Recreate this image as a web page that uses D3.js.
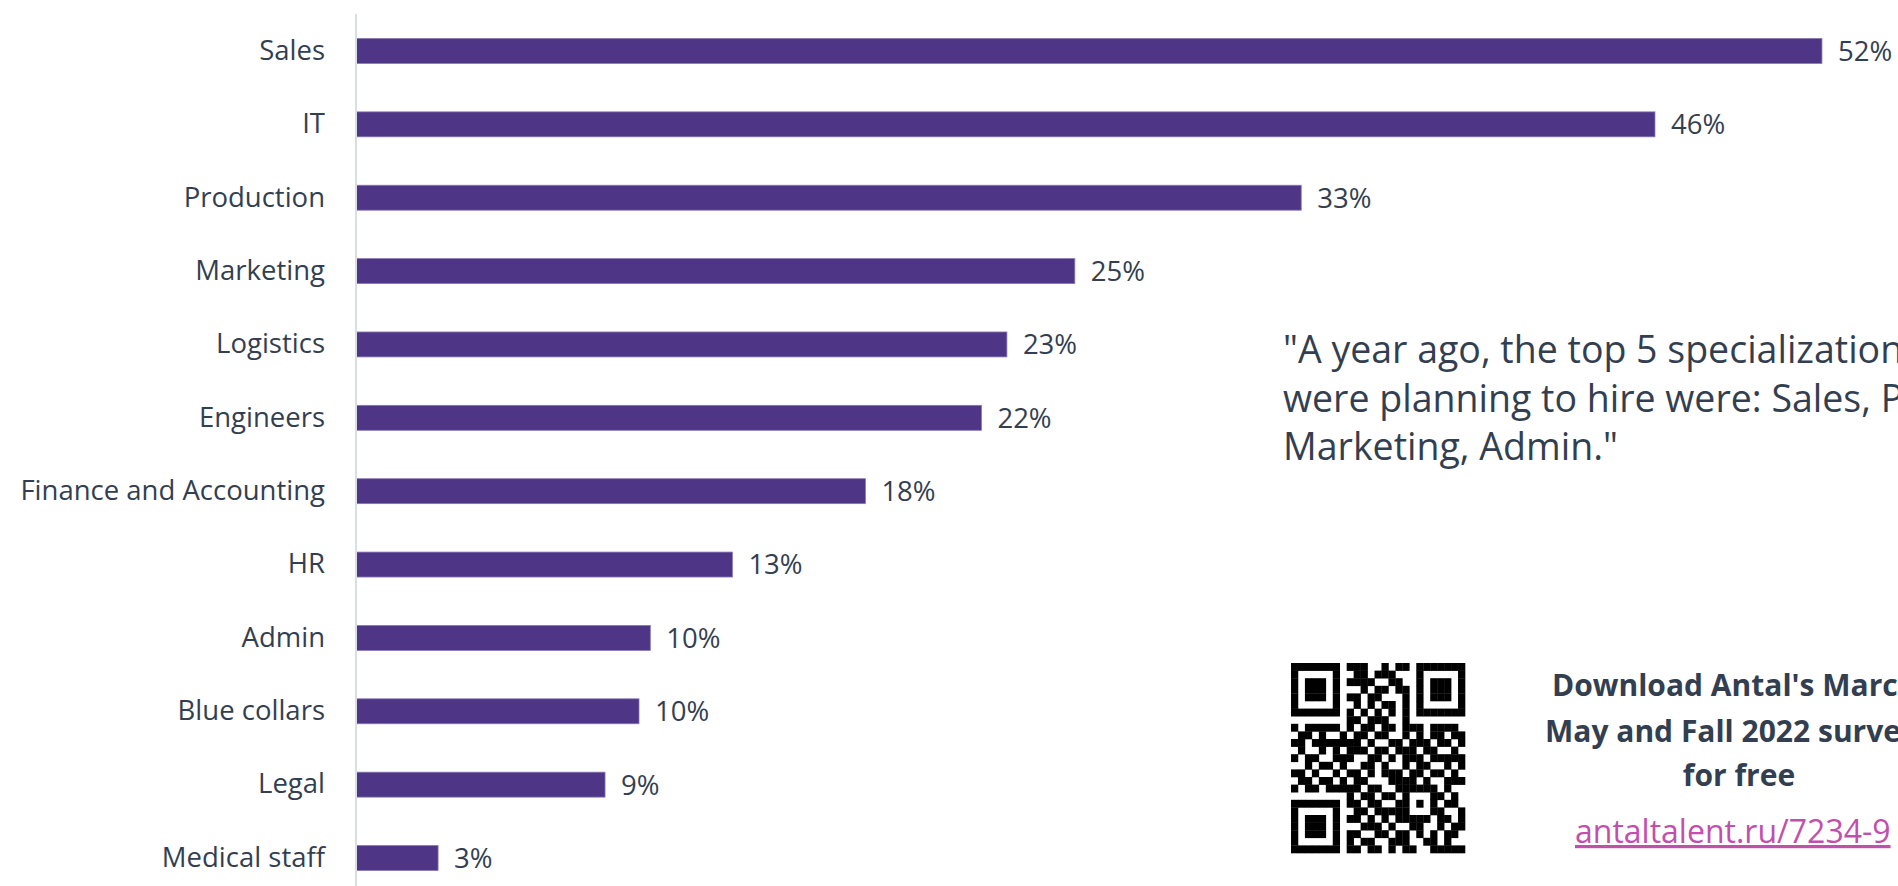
<!doctype html>
<html lang="en">
<head>
<meta charset="utf-8">
<title>Specializations planned to hire</title>
<script src="https://cdn.jsdelivr.net/npm/d3@7"></script>
<style>
    body { margin: 0; background: #fff; }
    svg text { font-family: "Open Sans", "Noto Sans", sans-serif; fill: #333f50; }
    .cat { font-size: 27.5px; }
    .val { font-size: 27.5px; }
    .quote { font-size: 37.5px; }
    .dl { font-size: 30px; font-weight: 700; }
    .link { font-size: 32px; fill: #c050ac; text-decoration: underline; }
</style>
</head>
<body>
<svg width="1898" height="886"></svg>
<script>
// data
var categories = ["Sales", "IT", "Production", "Marketing", "Logistics", "Engineers",
    "Finance and Accounting", "HR", "Admin", "Blue collars", "Legal", "Medical staff"];
var values = [51.8, 45.9, 33.4, 25.4, 23.0, 22.1, 18.0, 13.3, 10.4, 10.0, 8.8, 2.9];
var labels = ["52%", "46%", "33%", "25%", "23%", "22%", "18%", "13%", "10%", "10%", "9%", "3%"];

var quoteLines = ["\"A year ago, the top 5 specializations companies",
    "were planning to hire were: Sales, Production, IT,",
    "Marketing, Admin.\""];
var downloadLines = ["Download Antal's March,", "May and Fall 2022 surveys", "for free"];
var linkText = "antaltalent.ru/7234-9";

// qr code picture, one string per row
var qrRows = [
    "1111111011100101101111111",
    "1000001001101110001000001",
    "1011101011110011001011101",
    "1011101000101101101011101",
    "1011101011011000101011101",
    "1000001001010110101000001",
    "1111111010101010101111111",
    "0000000011011100100000000",
    "1011111010110110111011110",
    "0110100101101100101011011",
    "1101111111010011011101101",
    "0100101011101101110110010",
    "1011001110011010111011111",
    "0010110100110100101100101",
    "1101001011010111011011010",
    "0110110101100011110100111",
    "1011011111011001111110100",
    "0000000010110110100011010",
    "1111111011011001101010110",
    "1000001001101111100011001",
    "1011101011010101111101101",
    "1011101000111010011001011",
    "1011101011001101101010110",
    "1000001010110011100110100",
    "1111111011011010110011111"
];

var svg = d3.select("svg");
var axisX = 356;

var y = d3.scaleBand()
    .domain(categories)
    .range([14.3, 894.7])
    .paddingInner(0.66)
    .paddingOuter(0.33);

var x = d3.scaleLinear()
    .domain([0, 10])
    .range([axisX, axisX + 283]);

// bars
svg.append("g")
    .selectAll("rect")
    .data(values)
    .enter().append("rect")
    .attr("x", axisX)
    .attr("y", function(d, i) { return y(categories[i]); })
    .attr("width", function(d) { return x(d) - axisX; })
    .attr("height", y.bandwidth())
    .attr("fill", "#4f3586")
    .attr("stroke", "#8677b4")
    .attr("stroke-width", 0.8);

// axis line with category names
var axis = svg.append("g")
    .attr("transform", "translate(" + axisX + ",0)")
    .call(d3.axisLeft(y).tickSize(0).tickPadding(31));
axis.select(".domain")
    .attr("d", "M0,14V886")
    .attr("stroke", "#d9dde4")
    .attr("stroke-width", 2);
axis.selectAll(".tick text")
    .attr("class", "cat")
    .attr("fill", null)
    .attr("font-family", null)
    .attr("font-size", null);

// value labels
svg.append("g")
    .selectAll("text")
    .data(values)
    .enter().append("text")
    .attr("class", "val")
    .attr("x", function(d) { return x(d) + 16; })
    .attr("y", function(d, i) { return y(categories[i]) + y.bandwidth() / 2; })
    .attr("dy", "0.36em")
    .text(function(d, i) { return labels[i]; });

// quote
svg.append("g")
    .selectAll("text")
    .data(quoteLines)
    .enter().append("text")
    .attr("class", "quote")
    .attr("x", 1283)
    .attr("y", function(d, i) { return 363 + i * 48.5; })
    .text(function(d) { return d; });

// qr code
var modW = 174 / 25, modH = 190 / 25;
var qr = svg.append("g").attr("transform", "translate(1291,663)");
qrRows.forEach(function(row, r) {
    row.split("").forEach(function(c, k) {
        if (c === "1") {
            qr.append("rect")
                .attr("x", k * modW)
                .attr("y", r * modH)
                .attr("width", modW + 0.3)
                .attr("height", modH + 0.3)
                .attr("fill", "#000");
        }
    });
});

// download note
svg.append("g")
    .selectAll("text")
    .data(downloadLines)
    .enter().append("text")
    .attr("class", "dl")
    .attr("x", 1739)
    .attr("y", function(d, i) { return [696, 742, 786][i]; })
    .attr("text-anchor", "middle")
    .text(function(d) { return d; });

svg.append("text")
    .attr("class", "link")
    .attr("x", 1575)
    .attr("y", 843)
    .text(linkText);
</script>
</body>
</html>
